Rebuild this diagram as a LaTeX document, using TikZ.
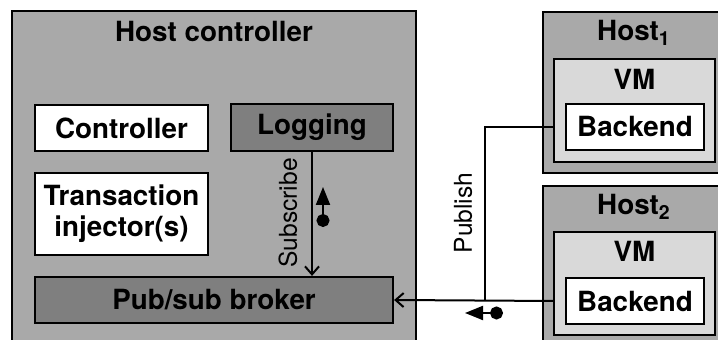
\documentclass[tikz,border=0pt]{standalone}
\usepackage{fontspec}
\setmainfont{TeX Gyre Heros}
\usetikzlibrary{arrows.meta,positioning}
\definecolor{hostgray}{HTML}{A9A9A9}
\definecolor{darkgray}{HTML}{7F7F7F}
\definecolor{vmgray}{HTML}{D9D9D9}
\begin{document}
\begin{tikzpicture}[
  x=0.5pt,
  y=-0.5pt,
  every node/.style={align=center, inner sep=0pt},
  box/.style={draw=black, line width=1.1pt, font=\fontsize{13.9}{15.5}\selectfont\bfseries},
  hostbox/.style={box, fill=hostgray},
  vmbox/.style={box, fill=vmgray},
  whitebox/.style={box, fill=white},
  darkbox/.style={box, fill=darkgray},
  title/.style={font=\fontsize{13.9}{15.5}\selectfont\bfseries},
  flowlabel/.style={font=\fontsize{12.3}{14}\selectfont, rotate=90},
  flow/.style={line width=1pt},
  glyph/.style={line width=1pt, {Triangle[length=9pt,width=7pt]}-{Circle[length=6.5pt]}}
]
  \useasboundingbox (0,0) rectangle (718,340);

  % Host controller and its parts.
  \node[hostbox, minimum width=202pt, minimum height=174.5pt] (hostctrl) at (214,185.5) {};
  \node[title] (hostctrltitle) at (214,32) {Host controller};
  \node[whitebox, minimum width=86.5pt, minimum height=23pt] (controller) at (121.5,128) {Controller};
  \node[whitebox, minimum width=86.5pt, minimum height=41pt] (injector) at (121.5,214) {Transaction\\injector(s)};
  \node[darkbox, minimum width=81pt, minimum height=23.5pt] (logging) at (312,127.5) {Logging};
  \node[darkbox, minimum width=179pt, minimum height=23pt] (broker) at (214,300) {Pub/sub broker};

  % Hosts with VMs.
  \node[hostbox, minimum width=93.5pt, minimum height=80.5pt] (hostA) at (636.5,92.5) {};
  \node[title] (hostAtitle) at (634,33) {Host\textsubscript{1}};
  \node[vmbox, minimum width=80.5pt, minimum height=51.5pt] (vmA) at (634.5,110.5) {};
  \node[title] (vmAtitle) at (634.5,79) {VM};
  \node[whitebox, minimum width=69pt, minimum height=23pt] (backendA) at (635,127) {Backend};

  \node[hostbox, minimum width=93.5pt, minimum height=87pt] (hostB) at (636.5,273) {};
  \node[title] (hostBtitle) at (634,207) {Host\textsubscript{2}};
  \node[vmbox, minimum width=80.5pt, minimum height=51.5pt] (vmB) at (634.5,283.5) {};
  \node[title] (vmBtitle) at (634.5,251) {VM};
  \node[whitebox, minimum width=69pt, minimum height=23pt] (backendB) at (635,301) {Backend};

  % Connectors.
  \coordinate (pubjoin) at (485,300);
  \draw[flow] (backendA.west -| vmA.west) -| (pubjoin);
  \draw[flow, -{Straight Barb[length=4pt,width=7pt]}] (backendB.west -| vmB.west) -- (broker.east);
  \draw[flow, -{Straight Barb[length=4pt,width=7pt]}] (logging.south) -- (logging.south |- broker.north);
  \node[flowlabel] (sublabel) at (288,213) {Subscribe};
  \node[flowlabel] (publabel) at (463,213) {Publish};

  % Direction glyphs.
  \coordinate (subtip) at (323,187);
  \coordinate (subtail) at (323,227);
  \draw[glyph] (subtip) -- (subtail);
  \coordinate (pubtip) at (465,313);
  \coordinate (pubtail) at (503,313);
  \draw[glyph] (pubtip) -- (pubtail);
\end{tikzpicture}
\end{document}
